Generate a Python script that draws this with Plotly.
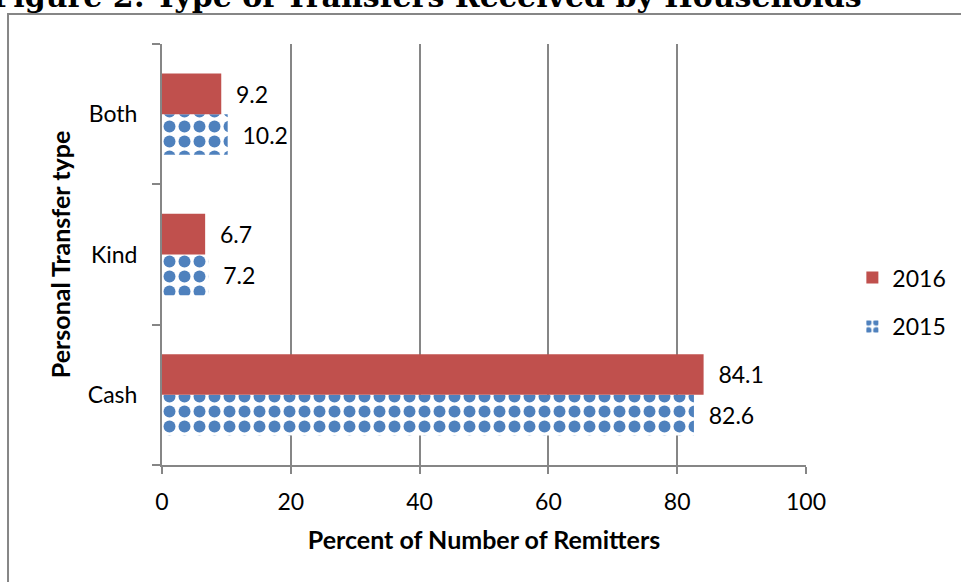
import plotly.graph_objects as go

categories = ["Cash", "Kind", "Both"]
values_2015 = [82.6, 7.2, 10.2]
values_2016 = [84.1, 6.7, 9.2]
x_ticks = [0, 20, 40, 60, 80, 100]

FONT = "Lato, 'Open Sans', sans-serif"

fig = go.Figure()
fig.add_trace(go.Bar(
    y=categories, x=values_2015, orientation="h", name="2015",
    legendgroup="g2015", legendrank=2,
    marker=dict(color="#4F81BD",
                pattern=dict(shape=".", fgcolor="#4F81BD", bgcolor="white",
                             fgopacity=1, size=15, solidity=0.5, fillmode="replace"),
                line=dict(width=0)),
    texttemplate="\u00a0\u00a0%{x}", textposition="outside",
    textfont=dict(size=23, color="black", family=FONT), cliponaxis=False,
))
fig.add_trace(go.Bar(
    y=categories, x=values_2016, orientation="h", name="2016",
    legendgroup="g2016", legendrank=1,
    marker=dict(color="#C0504D", line=dict(width=0)),
    texttemplate="\u00a0\u00a0%{x}", textposition="outside",
    textfont=dict(size=23, color="black", family=FONT), cliponaxis=False,
))

fig.update_layout(
    width=961, height=582,
    margin=dict(l=162, r=155, t=44, b=117, autoexpand=False),
    paper_bgcolor="white", plot_bgcolor="white",
    barmode="group", bargap=0.42, bargroupgap=0,
    font=dict(family=FONT, size=23, color="black"),
    showlegend=True,
    legend=dict(x=1.072, y=0.387, xanchor="left", yanchor="middle",
                traceorder="grouped", font=dict(size=23, family=FONT),
                itemsizing="constant", tracegroupgap=16),
    xaxis=dict(range=[0, 100], tickvals=x_ticks, showgrid=True,
               gridcolor="#868686", gridwidth=2, showline=True,
               linecolor="#868686", linewidth=2, ticks="outside", ticklen=7,
               tickcolor="#868686", tickwidth=2, zeroline=False,
               tickfont=dict(size=23, family=FONT), ticklabelstandoff=8,
               title=dict(text="<b>Percent of Number of Remitters</b>",
                          font=dict(size=25, family=FONT), standoff=18)),
    yaxis=dict(showline=True, linecolor="#868686", linewidth=2,
               ticks="outside", ticklen=8, tickcolor="#868686", tickwidth=2,
               tickson="boundaries", showgrid=False,
               tickfont=dict(size=23, family=FONT), ticklabelstandoff=18,
               title=dict(text="<b>Personal Transfer type</b>",
                          font=dict(size=25, family=FONT), standoff=10)),
)

# outer chart frame
fig.add_shape(type="rect", xref="paper", yref="paper",
              x0=-0.2391, x1=1.3, y0=-0.4, y1=1.0713,
              line=dict(color="#868686", width=2), fillcolor="rgba(0,0,0,0)",
              layer="below")

# clipped figure title at top
fig.add_annotation(text="<b>Figure 2: Type of Transfers Received by Households</b>",
                   xref="paper", yref="paper", x=-0.267, y=1.0713,
                   xanchor="left", yanchor="bottom", yshift=-2, showarrow=False,
                   font=dict(family="'DejaVu Serif', serif", size=30, color="black"))

fig.write_html("out.html", config={"displayModeBar": False},
               post_script="document.body.style.margin='0';")
